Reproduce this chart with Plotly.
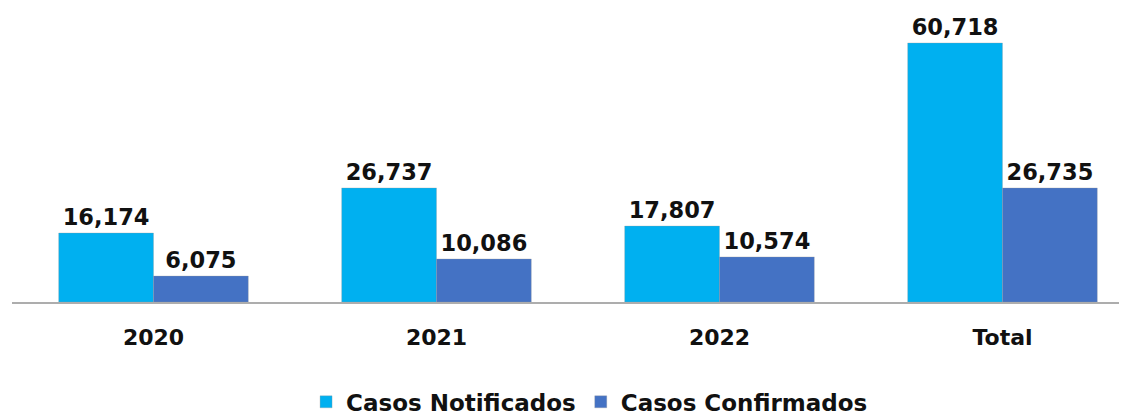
import plotly.graph_objects as go

categories = ["2020", "2021", "2022", "Total"]
notificados = [16174, 26737, 17807, 60718]
confirmados = [6075, 10086, 10574, 26735]
series_names = ["Casos Notificados", "Casos Confirmados"]
colors = ["#00B0F0", "#4472C4"]

def fmt(v):
    return f"{v:,}"

fig = go.Figure()
for name, vals, col in zip(series_names, [notificados, confirmados], colors):
    fig.add_trace(go.Bar(
        x=categories, y=vals, name=name,
        marker=dict(color=col, line=dict(color="rgba(150,150,150,0.6)", width=0.5)),
        text=[fmt(v) for v in vals], textposition="outside",
        textfont=dict(family="DejaVu Sans", size=22.5, color="#111111", weight="bold"),
        cliponaxis=False,
    ))

# page body has an 8px default margin, so the figure is sized to fit the window
fig.update_layout(
    width=1119, height=409,
    margin=dict(l=4, r=0, t=2, b=115, autoexpand=False),
    paper_bgcolor="white", plot_bgcolor="white",
    barmode="group", bargap=0.33, bargroupgap=0,
    showlegend=True,
    legend=dict(orientation="h", x=0.518, xanchor="center", y=-0.342, yanchor="middle",
                font=dict(family="DejaVu Sans", size=23, color="#111111", weight="bold"),
                itemwidth=30, traceorder="normal"),
    xaxis=dict(range=[-0.5, 3.44], showline=True, linecolor="#ADADAD", linewidth=2,
               showgrid=False, zeroline=False, ticks="", ticklabelstandoff=15, automargin=False,
               tickfont=dict(family="DejaVu Sans", size=22, color="#111111", weight="bold")),
    yaxis=dict(range=[0, 68450], visible=False, showgrid=False, zeroline=False, automargin=False),
)
fig.write_html("out.html")
